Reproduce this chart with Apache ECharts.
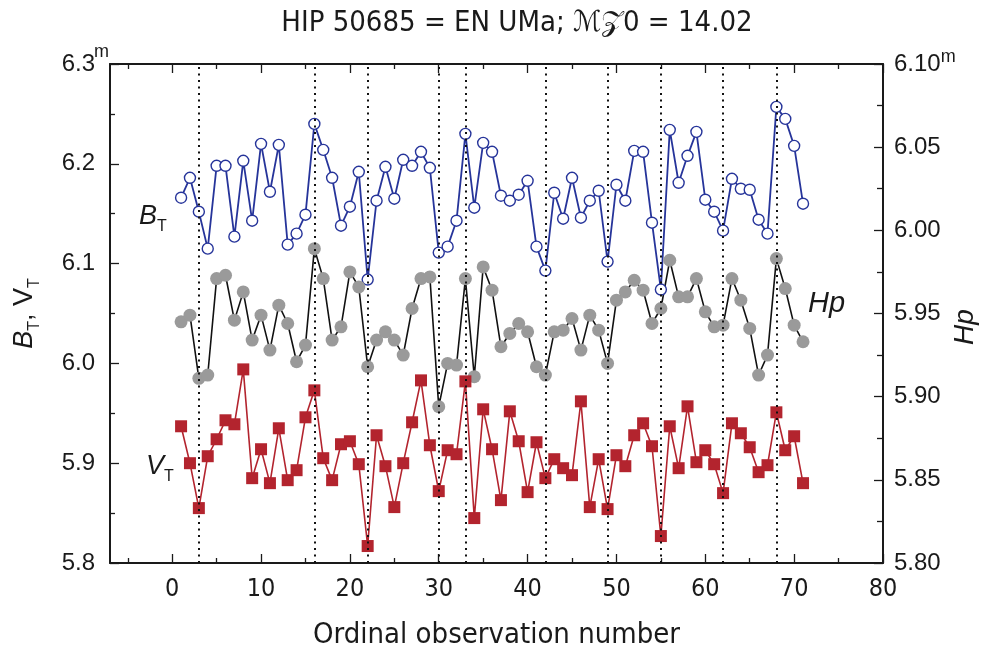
<!DOCTYPE html>
<html><head><meta charset="utf-8">
<script src="https://cdn.jsdelivr.net/npm/echarts@6/dist/echarts.min.js"></script>
<style>html,body{margin:0;padding:0;background:#fff}#c{width:986px;height:651px}</style>
</head><body><div id="c"></div>
<script>
const obs = [1,2,3,4,5,6,7,8,9,10,11,12,13,14,15,16,17,18,19,20,21,22,23,24,25,26,27,28,29,30,31,32,33,34,35,36,37,38,39,40,41,42,43,44,45,46,47,48,49,50,51,52,53,54,55,56,57,58,59,60,61,62,63,64,65,66,67,68,69,70,71];
const bt = [6.166,6.186,6.152,6.115,6.198,6.198,6.127,6.203,6.143,6.220,
  6.172,6.219,6.119,6.130,6.149,6.240,6.214,6.186,6.138,6.157,
  6.192,6.084,6.163,6.197,6.165,6.204,6.198,6.212,6.196,6.111,
  6.117,6.143,6.230,6.156,6.221,6.212,6.168,6.163,6.169,6.183,
  6.117,6.093,6.171,6.145,6.186,6.146,6.163,6.173,6.102,6.179,
  6.163,6.213,6.212,6.141,6.074,6.234,6.181,6.208,6.232,6.164,
  6.152,6.133,6.185,6.175,6.174,6.144,6.130,6.257,6.245,6.218,6.160];
const hp = [5.945,5.949,5.911,5.913,5.971,5.973,5.946,5.963,5.934,5.949,
  5.928,5.955,5.944,5.921,5.931,5.989,5.971,5.934,5.942,5.975,
  5.966,5.918,5.934,5.939,5.934,5.925,5.953,5.971,5.972,5.894,
  5.920,5.919,5.971,5.912,5.978,5.964,5.930,5.938,5.944,5.939,
  5.918,5.913,5.939,5.940,5.947,5.928,5.949,5.940,5.920,5.958,
  5.963,5.970,5.964,5.944,5.953,5.982,5.960,5.960,5.971,5.951,
  5.942,5.943,5.971,5.958,5.941,5.913,5.925,5.983,5.965,5.943,5.933];
const vt = [5.937,5.900,5.855,5.907,5.924,5.943,5.939,5.994,5.885,5.914,
  5.880,5.935,5.883,5.893,5.946,5.973,5.905,5.883,5.919,5.922,
  5.899,5.817,5.928,5.897,5.856,5.900,5.941,5.983,5.918,5.872,
  5.913,5.909,5.982,5.845,5.954,5.914,5.863,5.952,5.922,5.871,
  5.921,5.885,5.904,5.895,5.888,5.962,5.856,5.904,5.854,5.908,
  5.897,5.928,5.940,5.917,5.827,5.937,5.895,5.957,5.901,5.913,
  5.899,5.870,5.940,5.930,5.916,5.891,5.898,5.951,5.913,5.927,5.880];
const markedObs = [3,16,22,30,33,42,49,55,62,68];
const xMajorTicks = [0,10,20,30,40,50,60,70,80];
const xMinorTicks = [-5,5,15,25,35,45,55,65,75];

const pairs = (ys) => obs.map((x, i) => [x, ys[i]]);
const NARROW = "'Liberation Sans Narrow','DejaVu Sans Condensed','Liberation Sans',sans-serif";
const SANS = "'Liberation Sans',Arial,sans-serif";
const INK = '#1a1a1a';
const BLUE = '#26349a', RED = '#b3242e';
const G = {left:110, right:103, top:64, bottom:88, outerBoundsMode:'none', containLabel:false};
const axisLineStyle = {show:true, onZero:false, lineStyle:{color:INK, width:2}};
const tickLine = {color:INK, width:1.3};

const chart = echarts.init(document.getElementById('c'));
chart.setOption({
  animation:false,
  backgroundColor:'#fff',
  title:{text:'HIP 50685 = EN UMa; \u2133\uD835\uDCB50 = 14.02', left:512, top:4, textAlign:'center',
    textStyle:{fontFamily:NARROW, fontSize:29, fontWeight:'normal', color:INK}},
  grid:[Object.assign({}, G), Object.assign({}, G)],
  xAxis:[
    {gridIndex:0, type:'value', position:'bottom', min:-7, max:80, axisLine:axisLineStyle,
     axisTick:{show:true, inside:true, length:9, customValues:xMajorTicks, lineStyle:tickLine},
     axisLabel:{customValues:xMajorTicks, fontFamily:NARROW, fontSize:25, color:INK, margin:14},
     splitLine:{show:false},
     name:'Ordinal observation number', nameLocation:'middle', nameGap:58,
     nameTextStyle:{fontFamily:NARROW, fontSize:29, color:INK}},
    {gridIndex:0, type:'value', position:'top', min:-7, max:80, axisLine:axisLineStyle,
     axisTick:{show:true, inside:true, length:9, customValues:xMajorTicks, lineStyle:tickLine},
     axisLabel:{show:false}, splitLine:{show:false}},
    {gridIndex:1, type:'value', position:'bottom', min:-7, max:80, axisLine:{show:false, onZero:false},
     axisTick:{show:true, inside:true, length:5, customValues:xMinorTicks, lineStyle:tickLine},
     axisLabel:{show:false}, splitLine:{show:false}},
    {gridIndex:1, type:'value', position:'top', min:-7, max:80, axisLine:{show:false, onZero:false},
     axisTick:{show:true, inside:true, length:5, customValues:xMinorTicks, lineStyle:tickLine},
     axisLabel:{show:false}, splitLine:{show:false}}
  ],
  yAxis:[
    {gridIndex:0, type:'value', position:'left', min:5.8, max:6.3, interval:0.1, axisLine:axisLineStyle,
     axisTick:{show:true, inside:true, length:9, lineStyle:tickLine},
     minorTick:{show:true, splitNumber:2, length:5, lineStyle:tickLine},
     splitLine:{show:false}, minorSplitLine:{show:false},
     axisLabel:{showMaxLabel:true, showMinLabel:true, margin:15, color:INK, fontFamily:SANS, fontSize:24,
       formatter:(v)=> v.toFixed(1)},
     name:'{b|B}{t|T}{n|, V}{t|T}', nameLocation:'middle', nameGap:67, nameRotate:90,
     nameTextStyle:{rich:{b:{fontFamily:SANS, fontSize:27, fontStyle:'italic', color:INK, verticalAlign:'bottom', padding:[0,0,5,0]},
       n:{fontFamily:SANS, fontSize:27, color:INK, verticalAlign:'bottom', padding:[0,0,5,0]},
       t:{fontFamily:SANS, fontSize:16, color:INK, verticalAlign:'bottom'}}}},
    {gridIndex:0, type:'value', position:'right', min:5.8, max:6.1, interval:0.05, axisLine:axisLineStyle,
     axisTick:{show:true, inside:true, length:9, lineStyle:tickLine},
     minorTick:{show:true, splitNumber:2, length:6, lineStyle:tickLine},
     splitLine:{show:false}, minorSplitLine:{show:false},
     axisLabel:{showMaxLabel:true, showMinLabel:true, margin:11, color:INK, fontFamily:SANS, fontSize:24,
       formatter:(v)=> Math.abs(v-6.1)<1e-6 ? '{n|6.10}{m|m}' : '{n|'+v.toFixed(2)+'}',
       rich:{n:{fontFamily:SANS, fontSize:24, color:INK},
             m:{fontFamily:SANS, fontSize:18, color:INK, verticalAlign:'top', padding:[0,0,14,0]}}}},
    {gridIndex:1, type:'value', min:5.8, max:6.3, show:false}
  ],
  graphic:[
    {type:'text', left:94, top:43, style:{text:'m', fontFamily:SANS, fontSize:18, fill:INK}},
    {type:'text', x:965, y:327, rotation:Math.PI/2,
     style:{text:'Hp', align:'center', verticalAlign:'middle', fontFamily:SANS, fontSize:28, fontStyle:'italic', fill:INK}},
    {type:'text', left:139, top:203, style:{text:'{b|B}{t|T}', rich:{
      b:{fontFamily:SANS, fontSize:27, fontStyle:'italic', fill:INK, verticalAlign:'bottom', padding:[0,0,5,0]},
      t:{fontFamily:SANS, fontSize:16, fill:INK, verticalAlign:'bottom'}}}},
    {type:'text', left:146, top:453, style:{text:'{b|V}{t|T}', rich:{
      b:{fontFamily:SANS, fontSize:27, fontStyle:'italic', fill:INK, verticalAlign:'bottom', padding:[0,0,5,0]},
      t:{fontFamily:SANS, fontSize:16, fill:INK, verticalAlign:'bottom'}}}},
    {type:'text', left:808, top:289, style:{text:'Hp', fontFamily:SANS, fontSize:29, fontStyle:'italic', fill:INK}}
  ],
  series:[
    {name:'BT', type:'line', xAxisIndex:0, yAxisIndex:0, data:pairs(bt), symbol:'circle', symbolSize:11,
     itemStyle:{color:'#fff', borderColor:BLUE, borderWidth:1.4}, lineStyle:{color:BLUE, width:1.8}, z:3, emphasis:{disabled:true}},
    {name:'Hp', type:'line', xAxisIndex:0, yAxisIndex:1, data:pairs(hp), symbol:'circle', symbolSize:13,
     itemStyle:{color:'#9a9a9a'}, lineStyle:{color:'#111', width:1.6}, z:3, emphasis:{disabled:true}},
    {name:'VT', type:'line', xAxisIndex:0, yAxisIndex:0, data:pairs(vt), symbol:'rect', symbolSize:12,
     itemStyle:{color:RED}, lineStyle:{color:RED, width:1.6}, z:3, emphasis:{disabled:true}},
    {name:'marks', type:'line', xAxisIndex:0, yAxisIndex:0, data:[], z:6,
     markLine:{silent:true, symbol:['none','none'], label:{show:false}, z:6,
       lineStyle:{color:'#111', width:2, type:[2,4.5]},
       data:markedObs.map(v=>({xAxis:v}))}}
  ]
});
</script></body></html>
